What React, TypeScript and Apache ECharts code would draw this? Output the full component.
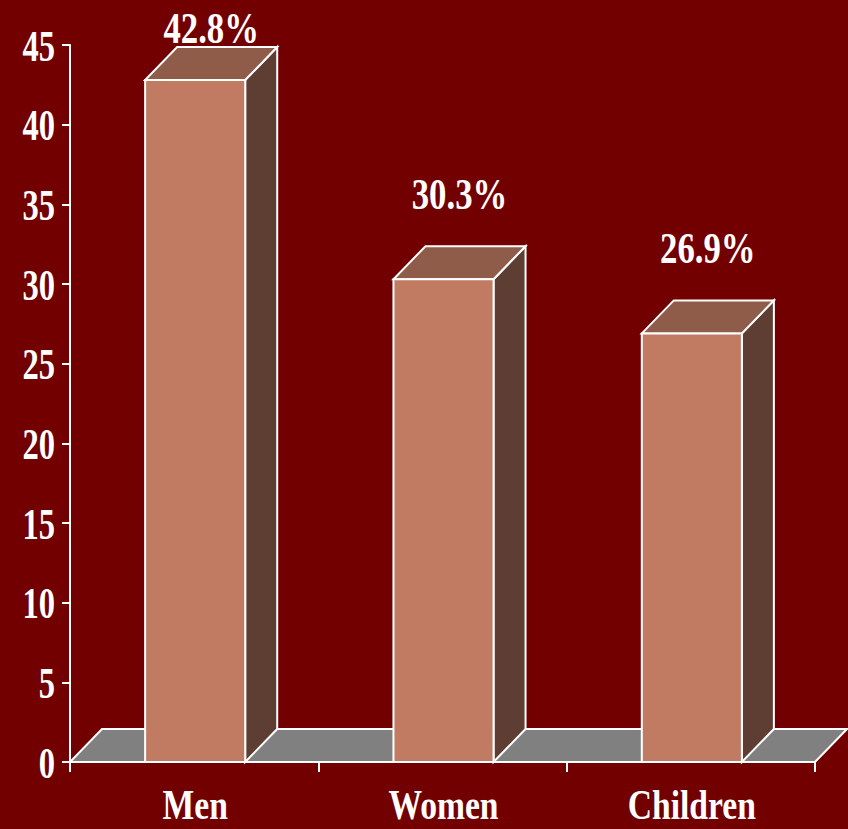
import React, { useEffect, useRef } from "react";
import * as echarts from "echarts";

const categories = ["Men", "Women", "Children"];
const values = [42.8, 30.3, 26.9];
const yTicks = [0, 5, 10, 15, 20, 25, 30, 35, 40, 45];

const BG = "#720000";
const FRONT = "#C07B62";
const TOP = "#8F5C4A";
const SIDE = "#5E3D32";
const FLOOR = "#808080";
const DX = 32;
const DY = 33;
const FONT = "'Liberation Serif', 'Times New Roman', serif";

function txt(text: string, x: number, y: number, scaleX: number, align: string, size = 44, lineHeight = 44) {
  return {
    type: "text",
    x,
    y,
    scaleX,
    style: {
      text,
      fill: "#ffffff",
      fontSize: size,
      lineHeight,
      fontFamily: FONT,
      fontWeight: "bold",
      align,
      verticalAlign: "middle",
      textAlign: align,
      textVerticalAlign: "middle",
    },
  };
}

export default function App() {
  const ref = useRef<HTMLDivElement>(null);
  useEffect(() => {
    if (!ref.current) return;
    const chart = echarts.init(ref.current, null, { renderer: "svg" });
    const axisStyle = { color: "#ffffff", width: 2 };
    chart.setOption({
      animation: false,
      backgroundColor: BG,
      grid: { left: 70, right: 33, top: 45, bottom: 67 },
      xAxis: {
        type: "category",
        data: categories,
        axisLine: { show: true, lineStyle: axisStyle },
        axisTick: { show: true, length: 10, lineStyle: axisStyle },
        axisLabel: { show: false },
        splitLine: { show: false },
        z: 5,
      },
      yAxis: {
        type: "value",
        min: 0,
        max: 45,
        interval: 5,
        axisLine: { show: true, lineStyle: axisStyle },
        axisTick: { show: true, length: 8, lineStyle: axisStyle },
        axisLabel: { show: false },
        splitLine: { show: false },
      },
      series: [
        {
          type: "custom",
          name: "floor",
          z: 1,
          clip: false,
          data: [[0, 0]],
          renderItem: (params: any, api: any) => {
            const cs = params.coordSys;
            const y0 = cs.y + cs.height;
            const x0 = cs.x;
            const x1 = cs.x + cs.width;
            return {
              type: "group",
              children: [
                {
                  type: "polygon",
                  shape: { points: [[x0, y0], [x1, y0], [x1 + DX, y0 - DY], [x0 + DX, y0 - DY]] },
                  style: { fill: FLOOR, stroke: "#ffffff", lineWidth: 2, lineJoin: "miter" },
                },
              ],
            };
          },
        },
        {
          type: "custom",
          name: "bars",
          z: 3,
          clip: false,
          data: values.map((v, i) => [i, v]),
          renderItem: (params: any, api: any) => {
            const i = api.value(0);
            const v = api.value(1);
            const top = api.coord([i, v]);
            const base = api.coord([i, 0]);
            const w = api.size([1, 0])[0] * 0.403;
            const cx = top[0] + 1;
            const l = cx - w / 2;
            const r = cx + w / 2;
            const t = top[1];
            const b = base[1];
            const stroke = { stroke: "#ffffff", lineWidth: 2, lineJoin: "miter" };
            const labelY = Math.max(t - DY - 52, 29);
            return {
              type: "group",
              children: [
                {
                  type: "polygon",
                  shape: { points: [[r, t], [r + DX, t - DY], [r + DX, b - DY], [r, b]] },
                  style: { fill: SIDE, ...stroke },
                },
                {
                  type: "polygon",
                  shape: { points: [[l, t], [r, t], [r + DX, t - DY], [l + DX, t - DY]] },
                  style: { fill: TOP, ...stroke },
                },
                {
                  type: "rect",
                  shape: { x: l, y: t, width: w, height: b - t },
                  style: { fill: FRONT, ...stroke },
                },
                txt(v.toFixed(1) + "%", cx + DX / 2, labelY, 0.79, "center", 44, 34),
              ],
            };
          },
        },
        {
          type: "custom",
          name: "ylabels",
          z: 4,
          clip: false,
          data: yTicks.map((v) => [0, v]),
          renderItem: (params: any, api: any) => {
            const v = api.value(1);
            const p = api.coord([0, v]);
            return txt(String(v), params.coordSys.x - 15, p[1] + 1, 0.74, "right", 44, 34);
          },
        },
        {
          type: "custom",
          name: "xlabels",
          z: 4,
          clip: false,
          data: categories.map((c, i) => [i, 0]),
          renderItem: (params: any, api: any) => {
            const i = api.value(0);
            const p = api.coord([i, 0]);
            return txt(categories[i], p[0] + 1, p[1] + 43, 0.8, "center", 42, 32);
          },
        },
      ],
    });
    return () => chart.dispose();
  }, []);
  return <div ref={ref} style={{ width: 848, height: 829, position: "absolute", left: 0, top: 0 }} />;
}
